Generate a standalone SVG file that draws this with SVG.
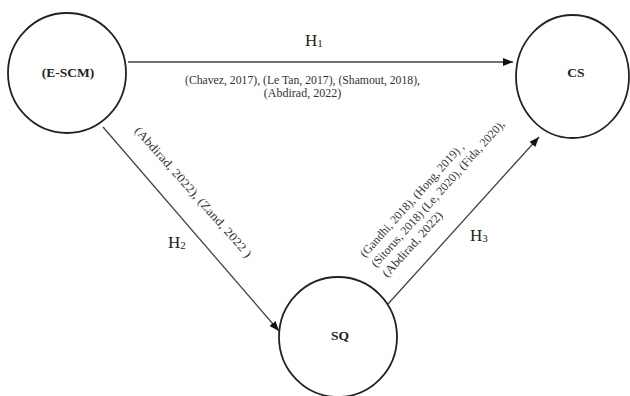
<svg xmlns="http://www.w3.org/2000/svg" width="630" height="396" viewBox="0 0 630 396">
<style>
.node{fill:#fff;stroke:#222;stroke-width:1.8}
.lbl{font-family:"Liberation Serif",serif;font-weight:bold;font-size:13.5px;fill:#222;text-anchor:middle}
.edge{stroke:#444;stroke-width:1.3;fill:none}
.h{font-family:"Liberation Serif",serif;font-size:17px;fill:#222}
.cite{font-family:"Liberation Serif",serif;font-size:12px;fill:#333}
</style>
<defs>
<marker id="arr" markerUnits="userSpaceOnUse" markerWidth="10" markerHeight="8" refX="10" refY="4" orient="auto">
<path d="M0,0 L10,4 L0,8 z" fill="#111"/>
</marker>
</defs>
<rect width="630" height="396" fill="#fff"/>
<g id="connectors">
<line class="edge" x1="128" y1="62" x2="513" y2="62" marker-end="url(#arr)"/>
<line class="edge" x1="103" y1="127" x2="279" y2="331" marker-end="url(#arr)"/>
<line class="edge" x1="388" y1="304" x2="539" y2="137" marker-end="url(#arr)"/>
<text class="h" x="305" y="46">H<tspan font-size="11" dy="1">1</tspan></text>
<text class="cite" x="302.5" y="84" text-anchor="middle" textLength="235" lengthAdjust="spacingAndGlyphs">(Chavez, 2017), (Le Tan, 2017), (Shamout, 2018),</text>
<text class="cite" x="302.5" y="97" text-anchor="middle">(Abdirad, 2022)</text>
<text class="h" x="168" y="248">H<tspan font-size="11" dy="1">2</tspan></text>
<text class="cite" font-size="13" transform="translate(134,131) rotate(48.5)" textLength="170" lengthAdjust="spacingAndGlyphs">(Abdirad, 2022), (Zand, 2022 )</text>
<text class="h" x="470" y="241">H<tspan font-size="11" dy="1">3</tspan></text>
<g transform="translate(365,258) rotate(-48)">
<text class="cite" x="0" y="0" textLength="149" lengthAdjust="spacingAndGlyphs">(Gandhi, 2018), (Hong, 2019) ,</text>
<text class="cite" x="0" y="15" textLength="193" lengthAdjust="spacingAndGlyphs">(Sitorus, 2018) (Le, 2020), (Fida, 2020),</text>
<text class="cite" x="0" y="30" textLength="84" lengthAdjust="spacingAndGlyphs">(Abdirad, 2022)</text>
</g>
</g>
<g id="node-escm">
<ellipse class="node" cx="67" cy="73" rx="59" ry="60"/>
<text class="lbl" x="68" y="77">(E-SCM)</text>
</g>
<g id="node-cs">
<ellipse class="node" cx="572.5" cy="76.5" rx="56.5" ry="61.5"/>
<text class="lbl" x="576" y="77">CS</text>
</g>
<g id="node-sq">
<ellipse class="node" cx="338" cy="337" rx="59" ry="60"/>
<text class="lbl" x="340" y="340">SQ</text>
</g>
</svg>
